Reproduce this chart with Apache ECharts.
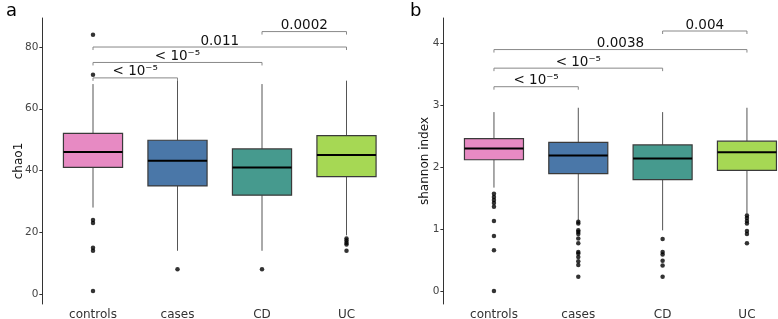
<!DOCTYPE html>
<html>
<head>
<meta charset="utf-8">
<script src="https://cdn.jsdelivr.net/npm/echarts@6/dist/echarts.min.js"></script>
<style>
  html, body { margin: 0; padding: 0; background: #fff; }
  #chart-container { width: 778px; height: 319px; }
</style>
</head>
<body>
<div id="chart-container"></div>
<script>
// groups on the x axis
const categories = ['controls', 'cases', 'CD', 'UC'];

// chao1: [lower whisker, Q1, median, Q3, upper whisker]
const chaoBoxes = [
  [28, 41, 46, 52, 68],
  [14, 35, 43.2, 49.8, 69.3],
  [14, 32, 41, 47, 68],
  [19, 38, 45, 51.3, 69.1]
];
const chaoOutliers = [
  [84, 71, 24, 23, 15, 14, 1],
  [8],
  [8],
  [18, 17.3, 16.6, 16, 14]
];
const chaoTicks = [0, 20, 40, 60, 80];
const chaoPairs = [[0, 1], [0, 2], [0, 3], [2, 3]];
const chaoBracketY = [70, 75, 80, 85];
const chaoPLabels = ['< 10⁻⁵', '< 10⁻⁵', '0.011', '0.0002'];

// shannon index
const shannonBoxes = [
  [1.67, 2.12, 2.3, 2.46, 2.89],
  [1.14, 1.895, 2.19, 2.40, 2.96],
  [0.98, 1.80, 2.14, 2.36, 2.89],
  [1.25, 1.95, 2.24, 2.42, 2.96]
];
const shannonOutliers = [
  [1.57, 1.52, 1.47, 1.42, 1.36, 1.13, 0.89, 0.66, 0],
  [1.12, 1.09, 0.98, 0.955, 0.92, 0.85, 0.77, 0.63, 0.605, 0.55, 0.48, 0.42, 0.23],
  [0.84, 0.63, 0.59, 0.49, 0.41, 0.23],
  [1.22, 1.18, 1.13, 1.09, 0.97, 0.92, 0.77]
];
const shannonTicks = [0, 1, 2, 3, 4];
const shannonPairs = [[0, 1], [0, 2], [0, 3], [2, 3]];
const shannonBracketY = [3.3, 3.6, 3.9, 4.2];
const shannonPLabels = ['< 10⁻⁵', '< 10⁻⁵', '0.0038', '0.004'];

const boxColors = ['#e78ac3', '#4a77a8', '#469a8e', '#a6d854'];
const FONT = 'DejaVu Sans';

var dom = document.getElementById('chart-container');
var myChart = echarts.init(dom, null, { renderer: 'canvas' });

function boxData(boxes) {
  return boxes.map(function (b, i) { return [i].concat(b); });
}
function outlierData(outs) {
  var res = [];
  outs.forEach(function (list, i) {
    list.forEach(function (v) { res.push([i, v]); });
  });
  return res;
}
function bracketData(pairs, ys) {
  return pairs.map(function (p, i) { return [p[0], p[1], ys[i]]; });
}

function renderBox(params, api) {
  var i = api.value(0);
  var w = api.size([1, 0])[0] * 0.7;
  var pMin = api.coord([i, api.value(1)]);
  var pQ1 = api.coord([i, api.value(2)]);
  var pMed = api.coord([i, api.value(3)]);
  var pQ3 = api.coord([i, api.value(4)]);
  var pMax = api.coord([i, api.value(5)]);
  var x = pMin[0];
  var whisker = { stroke: '#555', lineWidth: 1 };
  return {
    type: 'group',
    children: [
      { type: 'line', shape: { x1: x, y1: pQ3[1], x2: x, y2: pMax[1] }, style: whisker },
      { type: 'line', shape: { x1: x, y1: pQ1[1], x2: x, y2: pMin[1] }, style: whisker },
      {
        type: 'rect',
        shape: { x: x - w / 2, y: pQ3[1], width: w, height: pQ1[1] - pQ3[1] },
        style: { fill: boxColors[i], stroke: '#3a3a3a', lineWidth: 1.2 }
      },
      {
        type: 'line',
        shape: { x1: x - w / 2, y1: pMed[1], x2: x + w / 2, y2: pMed[1] },
        style: { stroke: '#000', lineWidth: 2 }
      }
    ]
  };
}

function bracketRenderer(labels) {
  return function (params, api) {
    var y = api.value(2);
    var p1 = api.coord([api.value(0), y]);
    var p2 = api.coord([api.value(1), y]);
    return {
      type: 'group',
      children: [
        {
          type: 'polyline',
          shape: { points: [[p1[0], p1[1] + 3], [p1[0], p1[1]], [p2[0], p2[1]], [p2[0], p2[1] + 3]] },
          style: { stroke: '#888', lineWidth: 1, fill: null }
        },
        {
          type: 'text',
          style: {
            x: (p1[0] + p2[0]) / 2,
            y: p1[1] + 1,
            text: labels[params.dataIndex],
            align: 'center',
            verticalAlign: 'bottom',
            fontSize: 13.5,
            fontFamily: FONT,
            fill: '#111'
          }
        }
      ]
    };
  };
}

function xAxisFor(gridIndex) {
  return {
    type: 'category',
    gridIndex: gridIndex,
    data: categories,
    axisLine: { show: false },
    axisTick: { show: false },
    axisLabel: { margin: 5, color: '#333', fontSize: 12, fontFamily: FONT }
  };
}

function yAxisFor(gridIndex, name, min, max, ticks, nameGap) {
  return {
    type: 'value',
    gridIndex: gridIndex,
    min: min,
    max: max,
    offset: 8.4,
    name: name,
    nameLocation: 'middle',
    nameGap: nameGap,
    nameMoveOverlap: false,
    nameTextStyle: { color: '#111', fontSize: 12, fontFamily: FONT },
    splitLine: { show: false },
    axisLine: { show: true, lineStyle: { color: '#333', width: 1 } },
    axisTick: { show: true, length: 3, customValues: ticks, lineStyle: { color: '#333' } },
    axisLabel: { margin: 4, customValues: ticks, color: '#444', fontSize: 10.5, fontFamily: FONT }
  };
}

var option = {
  animation: false,
  backgroundColor: '#fff',
  title: [
    { text: 'a', left: 1, top: -3, textStyle: { fontSize: 18, fontWeight: 'normal', fontFamily: FONT, color: '#000' } },
    { text: 'b', left: 405, top: -3, textStyle: { fontSize: 18, fontWeight: 'normal', fontFamily: FONT, color: '#000' } }
  ],
  grid: [
    { left: 50.75, width: 338, top: 18, height: 286, outerBoundsMode: 'none' },
    { left: 451.8, width: 337.3, top: 18, height: 286, outerBoundsMode: 'none' }
  ],
  xAxis: [xAxisFor(0), xAxisFor(1)],
  yAxis: [
    yAxisFor(0, 'chao1', -3.24, 89.4, chaoTicks, 17),
    yAxisFor(1, 'shannon index', -0.21, 4.41, shannonTicks, 13)
  ],
  series: [
    {
      type: 'custom', xAxisIndex: 0, yAxisIndex: 0,
      renderItem: renderBox, clip: false,
      encode: { x: 0, y: [1, 2, 3, 4, 5] },
      data: boxData(chaoBoxes)
    },
    {
      type: 'scatter', xAxisIndex: 0, yAxisIndex: 0,
      symbol: 'circle', symbolSize: 4.5,
      itemStyle: { color: '#000' },
      data: outlierData(chaoOutliers)
    },
    {
      type: 'custom', xAxisIndex: 0, yAxisIndex: 0,
      renderItem: bracketRenderer(chaoPLabels), clip: false,
      encode: { x: [0, 1], y: 2 },
      data: bracketData(chaoPairs, chaoBracketY)
    },
    {
      type: 'custom', xAxisIndex: 1, yAxisIndex: 1,
      renderItem: renderBox, clip: false,
      encode: { x: 0, y: [1, 2, 3, 4, 5] },
      data: boxData(shannonBoxes)
    },
    {
      type: 'scatter', xAxisIndex: 1, yAxisIndex: 1,
      symbol: 'circle', symbolSize: 4.5,
      itemStyle: { color: '#000' },
      data: outlierData(shannonOutliers)
    },
    {
      type: 'custom', xAxisIndex: 1, yAxisIndex: 1,
      renderItem: bracketRenderer(shannonPLabels), clip: false,
      encode: { x: [0, 1], y: 2 },
      data: bracketData(shannonPairs, shannonBracketY)
    }
  ]
};

if (option && typeof option === 'object') {
  myChart.setOption(option);
}
</script>
</body>
</html>
